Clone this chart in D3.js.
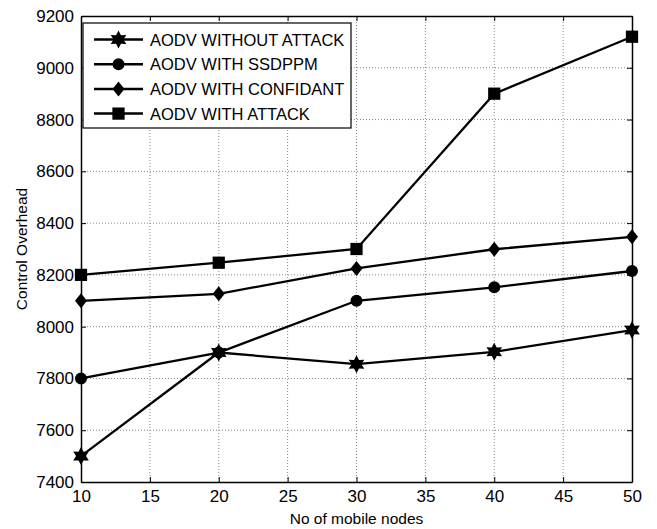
<!DOCTYPE html>
<html>
<head>
<meta charset="utf-8">
<script src="https://cdn.jsdelivr.net/npm/d3@7"></script>
<style>
  body { margin: 0; background: #fff; }
  text { font-family: "Liberation Sans", Arial, sans-serif; }
</style>
</head>
<body>
<script>
const nodes = [10, 20, 30, 40, 50];
const withoutAttack = [7500, 7900, 7855, 7903, 7987];
const withSsdppm = [7800, 7900, 8100, 8152, 8215];
const withConfidant = [8100, 8127, 8225, 8299, 8347];
const withAttack = [8200, 8247, 8300, 8900, 9120];
const seriesNames = ["AODV WITHOUT ATTACK", "AODV WITH SSDPPM", "AODV WITH CONFIDANT", "AODV WITH ATTACK"];
const seriesMarkers = ["hexagram", "circle", "diamond", "square"];
const xTicks = [10, 15, 20, 25, 30, 35, 40, 45, 50];
const yTicks = [7400, 7600, 7800, 8000, 8200, 8400, 8600, 8800, 9000, 9200];

const W = 657, H = 529;
const m = { left: 81, right: 25, top: 16, bottom: 47 };

const svg = d3.select("body").append("svg").attr("width", W).attr("height", H);

const x = d3.scaleLinear().domain([10, 50]).range([m.left, W - m.right]);
const y = d3.scaleLinear().domain([7400, 9200]).range([H - m.bottom, m.top]);

// grid
svg.append("g").selectAll("line").data(xTicks.slice(1, -1)).enter().append("line")
  .attr("x1", d => x(d)).attr("x2", d => x(d))
  .attr("y1", y(7400)).attr("y2", y(9200))
  .attr("stroke", "#888").attr("stroke-width", 1).attr("stroke-dasharray", "1,2");
svg.append("g").selectAll("line").data(yTicks.slice(1, -1)).enter().append("line")
  .attr("y1", d => y(d)).attr("y2", d => y(d))
  .attr("x1", x(10)).attr("x2", x(50))
  .attr("stroke", "#888").attr("stroke-width", 1).attr("stroke-dasharray", "1,2");

// axes with inward ticks (matlab style)
const fs = "17px";
const fmt = d3.format("d");
svg.append("g").attr("transform", `translate(0,${y(7400)})`)
  .call(d3.axisBottom(x).tickValues(xTicks).tickFormat(fmt).tickSizeInner(-5).tickSizeOuter(0).tickPadding(8));
svg.append("g").attr("transform", `translate(${x(10)},0)`)
  .call(d3.axisLeft(y).tickValues(yTicks).tickFormat(fmt).tickSizeInner(-5).tickSizeOuter(0).tickPadding(7));
svg.append("g").attr("transform", `translate(0,${y(9200)})`)
  .call(d3.axisTop(x).tickValues(xTicks).tickSizeInner(-5).tickSizeOuter(0).tickFormat(""));
svg.append("g").attr("transform", `translate(${x(50)},0)`)
  .call(d3.axisRight(y).tickValues(yTicks).tickSizeInner(-5).tickSizeOuter(0).tickFormat(""));
svg.selectAll(".domain").attr("stroke", "#000").attr("stroke-width", 1.5);
svg.selectAll(".tick line").attr("stroke", "#000");
svg.selectAll(".tick text").attr("font-size", fs).attr("fill", "#000")
  .style("font-family", "'Liberation Sans', Arial, sans-serif");

// axis titles
svg.append("text").attr("x", (x(10) + x(50)) / 2).attr("y", 524)
  .attr("text-anchor", "middle").attr("font-size", "15.5px").text("No of mobile nodes");
svg.append("text").attr("transform", `translate(27,${(y(7400) + y(9200)) / 2}) rotate(-90)`)
  .attr("text-anchor", "middle").attr("font-size", "15.5px").text("Control Overhead");

// markers
function hexagram(r) {
  const pts = [];
  for (let i = 0; i < 12; i++) {
    const a = -Math.PI / 2 + i * Math.PI / 6;
    const rr = i % 2 === 0 ? r : r * 0.55;
    pts.push([rr * Math.cos(a), rr * Math.sin(a)]);
  }
  return "M" + pts.map(p => p.join(",")).join("L") + "Z";
}
function markerPath(kind) {
  if (kind === "hexagram") return hexagram(9);
  if (kind === "circle") return d3.symbol(d3.symbolCircle, 113)();
  if (kind === "diamond") return "M0,-7.5L6,0L0,7.5L-6,0Z";
  return d3.symbol(d3.symbolSquare, 150)();
}

const allSeries = [withoutAttack, withSsdppm, withConfidant, withAttack];
const line = d3.line().x((d, i) => x(nodes[i])).y(d => y(d));

allSeries.forEach((vals, k) => {
  svg.append("path").datum(vals).attr("d", line)
    .attr("fill", "none").attr("stroke", "#000").attr("stroke-width", 2.3);
  svg.append("g").selectAll("path").data(vals).enter().append("path")
    .attr("transform", (d, i) => `translate(${x(nodes[i])},${y(d)})`)
    .attr("d", markerPath(seriesMarkers[k])).attr("fill", "#000");
});

// legend
const lg = svg.append("g").attr("transform", "translate(83,23)");
lg.append("rect").attr("width", 268).attr("height", 105)
  .attr("fill", "#fff").attr("stroke", "#000").attr("stroke-width", 1.2);
seriesNames.forEach((name, k) => {
  const ly = 16.5 + k * 24.7;
  lg.append("line").attr("x1", 11).attr("x2", 60).attr("y1", ly).attr("y2", ly)
    .attr("stroke", "#000").attr("stroke-width", 2.5);
  lg.append("path").attr("transform", `translate(35.5,${ly})`)
    .attr("d", markerPath(seriesMarkers[k])).attr("fill", "#000");
  lg.append("text").attr("x", 67).attr("y", ly + 6).attr("font-size", "16.5px").text(name);
});
</script>
</body>
</html>
